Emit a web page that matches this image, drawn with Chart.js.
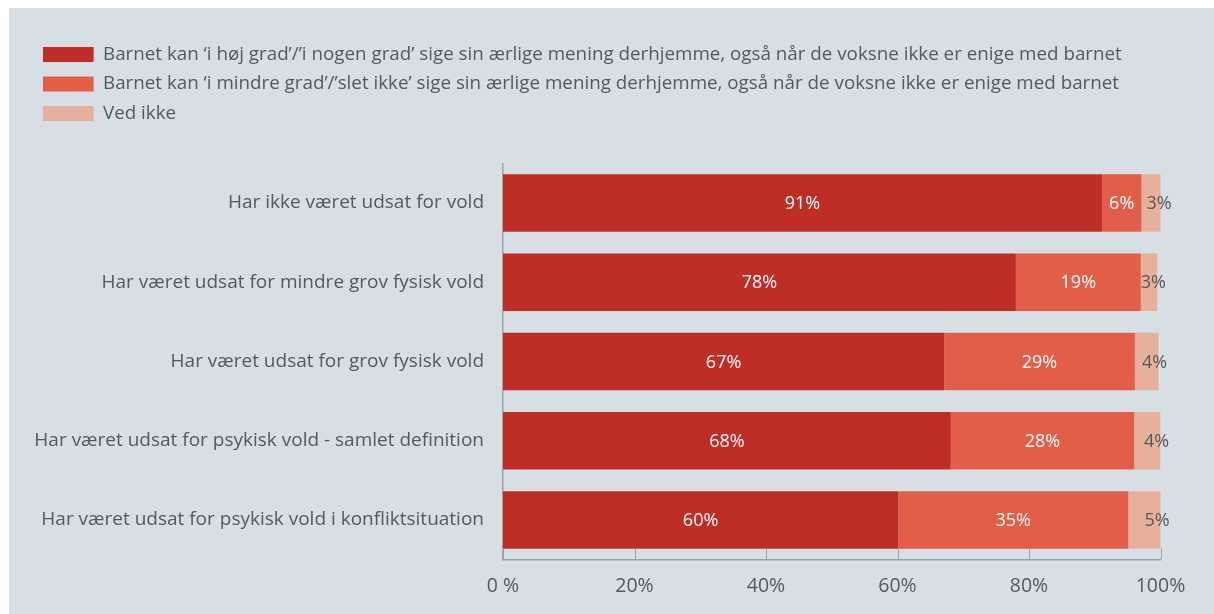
<!DOCTYPE html>
<html>
<head>
<meta charset="utf-8">
<script src="https://cdn.jsdelivr.net/npm/chart.js@4"></script>
<style>
  html, body { margin: 0; padding: 0; background: #ffffff; }
  #wrap { position: absolute; left: 9px; top: 8px; width: 1205px; height: 606px; background: #d7dfe5; }
  canvas { display: block; }
</style>
</head>
<body>
<div id="wrap"><canvas id="myChart" width="1205" height="606"></canvas></div>
<script>
var categories = [
    "Har ikke været udsat for vold",
    "Har været udsat for mindre grov fysisk vold",
    "Har været udsat for grov fysisk vold",
    "Har været udsat for psykisk vold - samlet definition",
    "Har været udsat for psykisk vold i konfliktsituation"
];
var seriesNames = [
    "Barnet kan \u2018i høj grad\u2019/\u2019i nogen grad\u2019 sige sin ærlige mening derhjemme, også når de voksne ikke er enige med barnet",
    "Barnet kan \u2018i mindre grad\u2019/\u2019slet ikke\u2019 sige sin ærlige mening derhjemme, også når de voksne ikke er enige med barnet",
    "Ved ikke"
];
var highDegree = [91.1, 78.0, 67.1, 68.1, 60.1];
var lowDegree = [6.0, 19.0, 29.0, 27.9, 35.0];
var dontKnow = [3.3, 2.5, 3.6, 4.0, 5.0];
var xTicks = [0, 20, 40, 60, 80, 100];

var textColor = '#55595d';
var axisColor = '#9aa4ab';
var fontFamily = "'Open Sans', sans-serif";

// labels inside the bars + small tick marks above the bottom axis
var barLabels = {
    id: 'barLabels',
    afterDatasetsDraw: function(chart) {
        var ctx = chart.ctx;
        ctx.save();
        ctx.font = '18px ' + fontFamily;
        ctx.textAlign = 'center';
        ctx.textBaseline = 'middle';
        chart.data.datasets.forEach(function(ds, i) {
            var meta = chart.getDatasetMeta(i);
            meta.data.forEach(function(bar, j) {
                var txt = Math.round(ds.data[j]) + '%';
                var x;
                if (i === 2) {
                    ctx.fillStyle = textColor;
                    x = bar.x - 4;
                } else {
                    ctx.fillStyle = '#ffffff';
                    x = (bar.x + bar.base) / 2;
                }
                ctx.fillText(txt, x, bar.y + 1);
            });
        });
        // tick marks
        var xs = chart.scales.x;
        var bottom = chart.chartArea.bottom;
        ctx.strokeStyle = axisColor;
        ctx.lineWidth = 1;
        xTicks.forEach(function(v) {
            var px = Math.round(xs.getPixelForValue(v)) + 0.5;
            ctx.beginPath();
            ctx.moveTo(px, bottom - 11);
            ctx.lineTo(px, bottom);
            ctx.stroke();
        });
        ctx.restore();
    }
};

new Chart(document.getElementById("myChart").getContext("2d"), {
    type: 'bar',
    data: {
        labels: categories,
        datasets: [{
            label: seriesNames[0],
            data: highDegree,
            backgroundColor: '#bf2e26'
        }, {
            label: seriesNames[1],
            data: lowDegree,
            backgroundColor: '#e35e48'
        }, {
            label: seriesNames[2],
            data: dontKnow,
            backgroundColor: '#e6b09c'
        }]
    },
    options: {
        indexAxis: 'y',
        responsive: false,
        animation: false,
        events: [],
        layout: {
            padding: { left: 23.3, right: 53.5, top: 26.3, bottom: 1 }
        },
        datasets: {
            bar: { barPercentage: 0.724, categoryPercentage: 1.0, borderWidth: 0 }
        },
        scales: {
            x: {
                stacked: true,
                min: 0,
                max: 100,
                afterBuildTicks: function(scale) {
                    scale.ticks = xTicks.map(function(v) { return { value: v }; });
                },
                grid: { display: false, drawTicks: false },
                border: { display: true, color: axisColor, width: 1.5 },
                ticks: {
                    padding: 15,
                    color: textColor,
                    font: { family: fontFamily, size: 19.5 },
                    callback: function(v) { return v === 0 ? '0 %' : v + '%'; }
                }
            },
            y: {
                stacked: true,
                afterFit: function(scale) { scale.width = 470.7; },
                grid: { display: false, drawTicks: false },
                border: { display: true, color: axisColor, width: 1.5 },
                ticks: {
                    padding: 19,
                    color: textColor,
                    font: { family: fontFamily, size: 19 }
                }
            }
        },
        plugins: {
            legend: {
                position: 'top',
                align: 'start',
                labels: {
                    boxWidth: 50.6,
                    boxHeight: 15,
                    padding: 10.7,
                    color: textColor,
                    font: { family: fontFamily, size: 18.8 }
                }
            },
            subtitle: {
                display: true,
                text: '',
                weight: 500,
                font: { size: 10, lineHeight: 1 },
                padding: { top: 0, bottom: 20.6 }
            },
            tooltip: { enabled: false }
        }
    },
    plugins: [barLabels]
});
</script>
</body>
</html>
